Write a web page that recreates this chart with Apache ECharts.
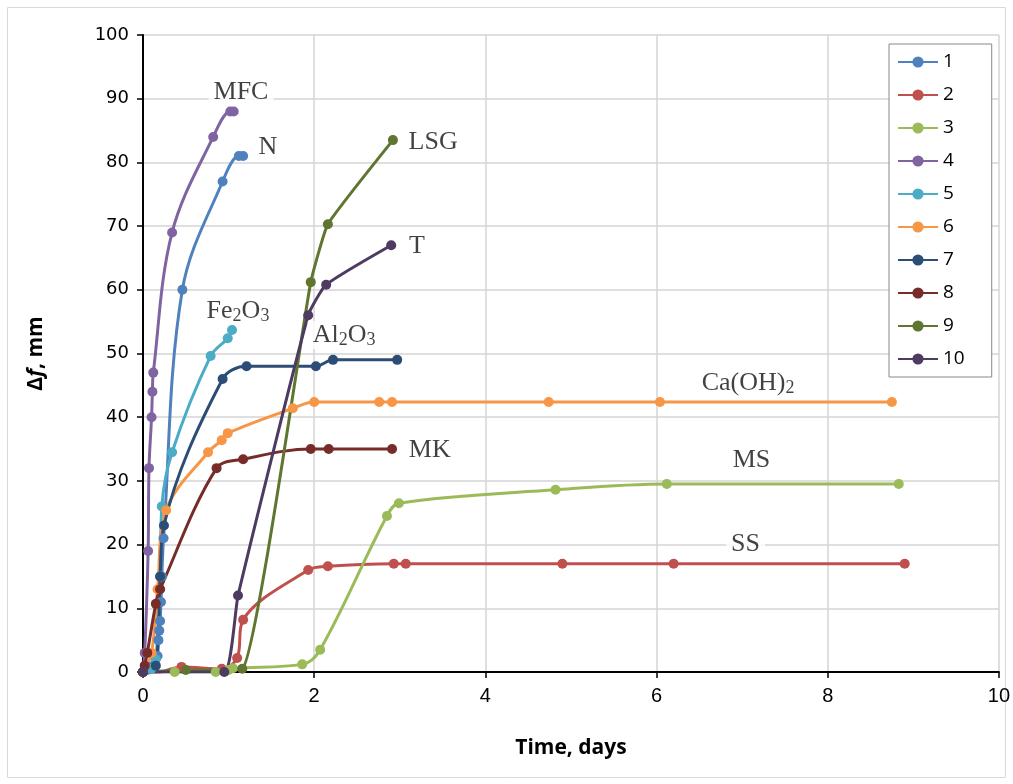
<!DOCTYPE html>
<html>
<head>
<meta charset="utf-8">
<script src="https://cdn.jsdelivr.net/npm/echarts@6/dist/echarts.min.js"></script>
<style>
  html, body {margin: 0; padding: 0; background: #fff;}
  #chart {width: 1013px; height: 784px;}
</style>
</head>
<body>
<div id="chart"></div>
<script>
  // 每条曲线 [时间(天), Δf(mm)]
  const seriesNames = ['1', '2', '3', '4', '5', '6', '7', '8', '9', '10'];
  const colors = ['#4F81BD', '#C0504D', '#9BBB59', '#8064A2', '#4BACC6',
                  '#F79646', '#2C4D75', '#772C2A', '#5F7530', '#4D3B62'];

  const s1 = [[0, 0], [0.05, 0.3], [0.12, 1], [0.17, 2.5], [0.18, 5], [0.19, 6.5], [0.2, 8],
              [0.21, 11], [0.22, 15], [0.24, 21], [0.46, 60], [0.93, 77], [1.12, 81], [1.17, 81]];
  const s2 = [[0, 0], [0.1, -0.3], [0.45, 0.8], [0.92, 0.5], [1.1, 2.2], [1.17, 8.2], [1.93, 16],
              [2.16, 16.6], [2.93, 17], [3.07, 17], [4.9, 17], [6.2, 17], [8.9, 17]];
  const s3 = [[0, 0], [0.37, 0], [0.85, 0], [1.0, 0.3], [1.05, 0.6], [1.86, 1.2], [2.07, 3.5],
              [2.85, 24.5], [2.99, 26.5], [4.82, 28.6], [6.12, 29.5], [8.83, 29.5]];
  const s4 = [[0, 0], [0.02, 3], [0.06, 19], [0.07, 32], [0.1, 40], [0.11, 44], [0.12, 47],
              [0.34, 69], [0.82, 84], [1.02, 88], [1.06, 88]];
  const s5 = [[0, 0], [0.1, 0.5], [0.15, 2], [0.2, 15], [0.22, 26], [0.34, 34.5], [0.79, 49.6],
              [0.99, 52.4], [1.04, 53.7]];
  const s6 = [[0, 0], [0.1, 3], [0.17, 13], [0.27, 25.4], [0.76, 34.5], [0.92, 36.4], [0.99, 37.5],
              [1.75, 41.4], [2.0, 42.4], [2.76, 42.4], [2.91, 42.4], [4.74, 42.4], [6.04, 42.4], [8.75, 42.4]];
  const s7 = [[0, 0], [0.15, 1], [0.2, 15], [0.245, 23], [0.93, 46], [1.21, 48], [2.02, 48],
              [2.22, 49], [2.97, 49]];
  const s8 = [[0, 0], [0.02, 1], [0.05, 3], [0.15, 10.7], [0.2, 13], [0.86, 32], [1.17, 33.4],
              [1.96, 35], [2.17, 35], [2.91, 35]];
  const s9 = [[0, 0], [0.5, 0.3], [1.16, 0.5], [1.96, 61.2], [2.16, 70.3], [2.92, 83.5]];
  const s10 = [[0, 0], [0.95, 0], [1.11, 12], [1.93, 56], [2.14, 60.8], [2.9, 67]];
  const allSeries = [s1, s2, s3, s4, s5, s6, s7, s8, s9, s10];
  const smoothness = [0.35, 0.35, 0.35, 0.35, 0.35, 0.35, 0.35, 0.35, 0.12, 0.15];

  // 曲线标注
  const labelText = ['MFC', 'N', 'LSG', 'T', '{n|Fe}{s|2}{n|O}{s|3}', '{n|Al}{s|2}{n|O}{s|3}',
                     '{n|Ca(OH)}{s|2}', 'MK', 'MS', 'SS'];
  const labelX = [1.145, 1.46, 3.39, 3.2, 1.11, 2.35, 7.07, 3.35, 7.11, 7.04];
  const labelY = [91.1, 82.4, 83.2, 66.9, 56.7, 52.9, 45.4, 34.9, 33.3, 20.1];

  const xTicks = {min: 0, max: 10, interval: 2};
  const yTicks = {min: 0, max: 100, interval: 10};

  let myChart = echarts.init(document.getElementById('chart'));

  let series = allSeries.map((d, i) => ({
    name: seriesNames[i],
    type: 'line',
    data: d,
    smooth: smoothness[i],
    symbol: 'circle',
    symbolSize: 10,
    showSymbol: true,
    lineStyle: {width: 3, color: colors[i]},
    itemStyle: {color: colors[i]},
    z: 3
  }));

  series.push({
    type: 'scatter',
    data: labelX.map((x, i) => [x, labelY[i], labelText[i]]),
    symbolSize: 1,
    itemStyle: {color: 'rgba(0,0,0,0)'},
    silent: true,
    z: 5,
    label: {
      show: true,
      position: 'inside',
      formatter: p => p.data[2],
      color: '#111',
      fontFamily: 'Liberation Serif',
      fontSize: 26,
      backgroundColor: '#fff',
      padding: [0, 5],
      rich: {
        n: {fontFamily: 'Liberation Serif', fontSize: 26, color: '#111'},
        s: {fontFamily: 'Liberation Serif', fontSize: 18, color: '#111', padding: [10, 0, 0, 0]}
      }
    }
  });

  myChart.setOption({
    animation: false,
    color: colors,
    grid: {left: 143, right: 14, top: 35, bottom: 112},
    graphic: [{
      type: 'rect',
      shape: {x: 7.5, y: 7.5, width: 998, height: 770},
      style: {fill: 'none', stroke: '#d9d9d9', lineWidth: 1},
      silent: true
    }],
    legend: {
      data: seriesNames,
      orient: 'vertical',
      left: 889,
      top: 44,
      padding: [8, 27, 8, 8],
      itemWidth: 40,
      itemHeight: 14,
      itemGap: 13,
      borderColor: '#888',
      borderWidth: 1,
      backgroundColor: '#fff',
      textStyle: {fontFamily: 'Open Sans', fontSize: 19, color: '#000', lineHeight: 20}
    },
    xAxis: {
      type: 'value',
      min: xTicks.min,
      max: xTicks.max,
      interval: xTicks.interval,
      name: 'Time, days',
      nameLocation: 'middle',
      nameGap: 66,
      nameTextStyle: {fontFamily: 'Open Sans', fontWeight: 'bold', fontSize: 21, color: '#000'},
      axisLine: {onZero: false, lineStyle: {color: '#000', width: 2}},
      axisTick: {show: true, length: 6, lineStyle: {color: '#000', width: 1.5}},
      axisLabel: {fontFamily: 'Liberation Sans', fontSize: 20, color: '#000', margin: 14},
      splitLine: {show: true, lineStyle: {color: '#d4d4d4', width: 1.5}}
    },
    yAxis: {
      type: 'value',
      min: yTicks.min,
      max: yTicks.max,
      interval: yTicks.interval,
      name: '{b|Δ}{i|f}{b|, mm}',
      nameLocation: 'middle',
      nameGap: 96,
      nameTextStyle: {
        rich: {
          b: {fontFamily: 'Open Sans', fontWeight: 'bold', fontSize: 21, color: '#000'},
          i: {fontFamily: 'Open Sans', fontWeight: 'bold', fontStyle: 'italic', fontSize: 21, color: '#000'}
        }
      },
      axisLine: {show: true, lineStyle: {color: '#000', width: 2}},
      axisTick: {show: true, length: 6, lineStyle: {color: '#000', width: 1.5}},
      axisLabel: {fontFamily: 'DejaVu Sans', fontSize: 18, color: '#000', margin: 14},
      splitLine: {show: true, lineStyle: {color: '#d4d4d4', width: 1.5}}
    },
    series: series
  });
</script>
</body>
</html>
